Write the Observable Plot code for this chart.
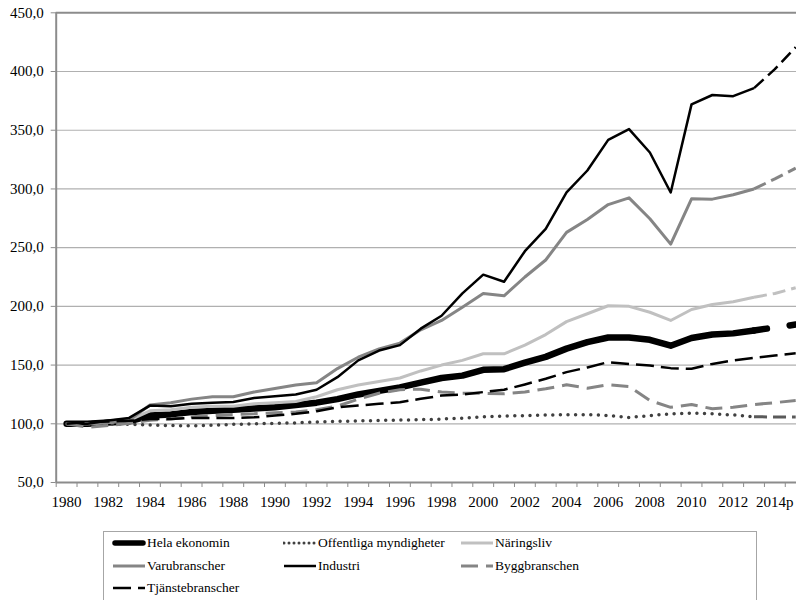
<!DOCTYPE html>
<html><head><meta charset="utf-8">
<script src="https://cdn.jsdelivr.net/npm/d3@7"></script>
<script src="https://cdn.jsdelivr.net/npm/@observablehq/plot@0.6"></script>
<style>
body{margin:0;overflow:hidden;background:#fff;font-family:"Liberation Serif","DejaVu Serif",serif;}
#legend{position:absolute;left:103px;top:531px;width:654px;height:90px;border:1px solid #a6a6a6;box-sizing:border-box;display:grid;grid-template-columns:171px 177px auto;grid-auto-rows:22.5px;padding-left:8px;font-size:13.5px;line-height:22.5px;color:#000;}
.item{display:flex;align-items:center;white-space:nowrap}
.item svg{flex:none;margin-right:1px}
#chart svg text{font-family:"Liberation Serif","DejaVu Serif",serif;}
</style></head><body>
<div id="chart"></div><div id="legend"></div>
<script>
const years = [1980,1981,1982,1983,1984,1985,1986,1987,1988,1989,1990,1991,1992,1993,1994,1995,1996,1997,1998,1999,2000,2001,2002,2003,2004,2005,2006,2007,2008,2009,2010,2011,2012,2013,2014,2015];
const yearLabels = [1980,1982,1984,1986,1988,1990,1992,1994,1996,1998,2000,2002,2004,2006,2008,2010,2012,2014];
const yTicks = [50,100,150,200,250,300,350,400,450];
const lastActual = 2013;

const helaEkonomin = [100,100,101,102,107,108,110,111,112,113,114,116,118,121,125,128,131,135,139,141,146,146.5,152,157,164,169.5,173.5,173.5,171.5,166.5,173,176,177,179.5,182,184.5];
const offentliga = [100,100,100,99.5,99,98.5,98.3,98.7,99.5,100,100.3,100.8,101.5,102,102.5,102.8,103.2,103.5,104,104.8,106,106.5,107,107.5,107.7,107.8,107,105.3,107,108.5,109,108.5,107.5,106,105.8,105.8];
const naringsliv = [100,100,101,103,111,112,114,115,115,117,118,119,123,129,133,136,139,145,150,154,159.6,159.6,167,176,187,193.7,200.5,200,195,188,197.3,201.6,204,207.8,211,215.8];
const varubranscher = [100,100,101,103,116,118,121,123,123,127,130,133,135,147,156.7,163.8,168.7,180,188,199.3,211,209,225,239.5,263,274,286.7,292.4,274.6,253,291.6,291.3,295,300,308.6,317.7];
const industri = [100,100,102.8,105,115.5,115,117,118,118.5,122,123.5,125,129,139.7,154,162.4,167,181,192,211,227,221,247,266,297,315.7,341.8,351,331,297,372,380,379,385.8,402,420.7];
const byggbranschen = [100,97,98.5,100.5,103,104,106,107,108,108.5,109.5,110,112,115,121,126,129,129.5,127,126,126,125.5,127,129.8,133.2,130.3,133.2,131.8,119.8,114,116.4,112.8,114,116.4,118,119.8];
const tjanstebranscher = [100,101.5,102,102.5,104,104,105,105,105,105.5,107,108.5,110.7,114,115.6,117,118.4,121.3,124,125,127,129,133.5,138.3,144,148,152.5,151,149.6,147.4,146.8,151,154,156.2,158.2,160];

const seriesNames = ["Hela ekonomin","Offentliga myndigheter","Näringsliv","Varubranscher","Industri","Byggbranschen","Tjänstebranscher"];
const seriesValues = [helaEkonomin, offentliga, naringsliv, varubranscher, industri, byggbranschen, tjanstebranscher];

const styles = {
  "Hela ekonomin": {stroke:"#000", w:6.5, dash:null, cap:"round", pStroke:"#000", pw:6.5, pDash:"13,23", pCap:"round"},
  "Offentliga myndigheter": {stroke:"#404040", w:3.5, dash:"0,7.6", cap:"round", pStroke:"#5a5a5a", pw:3, pDash:"13,6", pCap:"butt"},
  "Näringsliv": {stroke:"#c0c0c0", w:3, dash:null, cap:"butt", pStroke:"#c0c0c0", pw:3, pDash:"13,6", pCap:"butt"},
  "Varubranscher": {stroke:"#858585", w:3, dash:null, cap:"butt", pStroke:"#858585", pw:3, pDash:"13,6", pCap:"butt"},
  "Industri": {stroke:"#000", w:2.5, dash:null, cap:"butt", pStroke:"#000", pw:2.5, pDash:"13,6", pCap:"butt"},
  "Byggbranschen": {stroke:"#858585", w:3, dash:"17,8", cap:"butt", full:true},
  "Tjänstebranscher": {stroke:"#000", w:2.5, dash:"18,7", cap:"butt", full:true}
};

const fmt = d => d.toFixed(1).replace(".", ",");
const boundaries = years.map(y => y - 0.5).concat([years[years.length-1] + 0.5]);

const lineMarks = [];
seriesNames.forEach((name, k) => {
  const st = styles[name];
  const all = years.map((yr, i) => ({year: yr, value: seriesValues[k][i]}));
  if (st.full) {
    lineMarks.push(Plot.line(all, {x:"year", y:"value", stroke:st.stroke, strokeWidth:st.w, strokeDasharray:st.dash, strokeLinecap:st.cap, strokeLinejoin:"round"}));
  } else {
    const main = all.filter(d => d.year <= lastActual);
    const proj = all.filter(d => d.year >= lastActual);
    lineMarks.push(Plot.line(main, {x:"year", y:"value", stroke:st.stroke, strokeWidth:st.w, strokeDasharray:st.dash, strokeLinecap:st.cap, strokeLinejoin:"round"}));
    lineMarks.push(Plot.line(proj, {x:"year", y:"value", stroke:st.pStroke, strokeWidth:st.pw, strokeDasharray:st.pDash, strokeLinecap:st.pCap, strokeLinejoin:"round"}));
  }
});

const chart = Plot.plot({
  width: 796,
  height: 520,
  marginLeft: 55.7,
  marginRight: 0,
  marginTop: 12.3,
  marginBottom: 38,
  style: {fontFamily: '"Liberation Serif","DejaVu Serif",serif', fontSize: "15px", color: "#000", background: "#fff"},
  x: {domain: [1979.5, 2015.5], range: [55.7, 805.6], label: null},
  y: {domain: [50, 450], label: null},
  marks: [
    Plot.ruleY(yTicks.filter(v => v > 50 && v < 450), {stroke:"#b0b0b0", strokeWidth:1.2}),
    Plot.ruleY([450], {stroke:"#8c8c8c", strokeWidth:2}),
    Plot.axisY(yTicks, {anchor:"left", label:null, tickSize:5, tickPadding:7.5, tickFormat:fmt, stroke:"#8c8c8c", fill:"#000", fontSize:15}),
    Plot.axisX(boundaries, {anchor:"bottom", label:null, tickSize:5, tickFormat:() => "", stroke:"#8c8c8c"}),
    Plot.axisX(yearLabels, {anchor:"bottom", label:null, tickSize:0, tickPadding:14, tickFormat:d => d === 2014 ? "2014p" : String(d), fill:"#000", fontSize:15}),
    ...lineMarks,
    Plot.ruleX([1979.5], {stroke:"#8c8c8c", strokeWidth:2}),
    Plot.ruleY([50], {stroke:"#8c8c8c", strokeWidth:2})
  ]
});
document.getElementById("chart").appendChild(chart);

// legend
const legend = d3.select("#legend");
seriesNames.forEach(name => {
  const st = styles[name];
  const item = legend.append("div").attr("class", "item");
  const svg = item.append("svg").attr("width", 34).attr("height", 12);
  const isHela = name === "Hela ekonomin";
  svg.append("line")
    .attr("x1", isHela ? 3 : 1).attr("x2", isHela ? 31 : 33).attr("y1", 6).attr("y2", 6)
    .attr("stroke", st.stroke).attr("stroke-width", isHela ? 5.5 : Math.min(st.w, 3))
    .attr("stroke-dasharray", name === "Offentliga myndigheter" ? "0,5" : st.dash)
    .attr("stroke-linecap", st.cap);
  item.append("span").text(name);
});
</script></body></html>
